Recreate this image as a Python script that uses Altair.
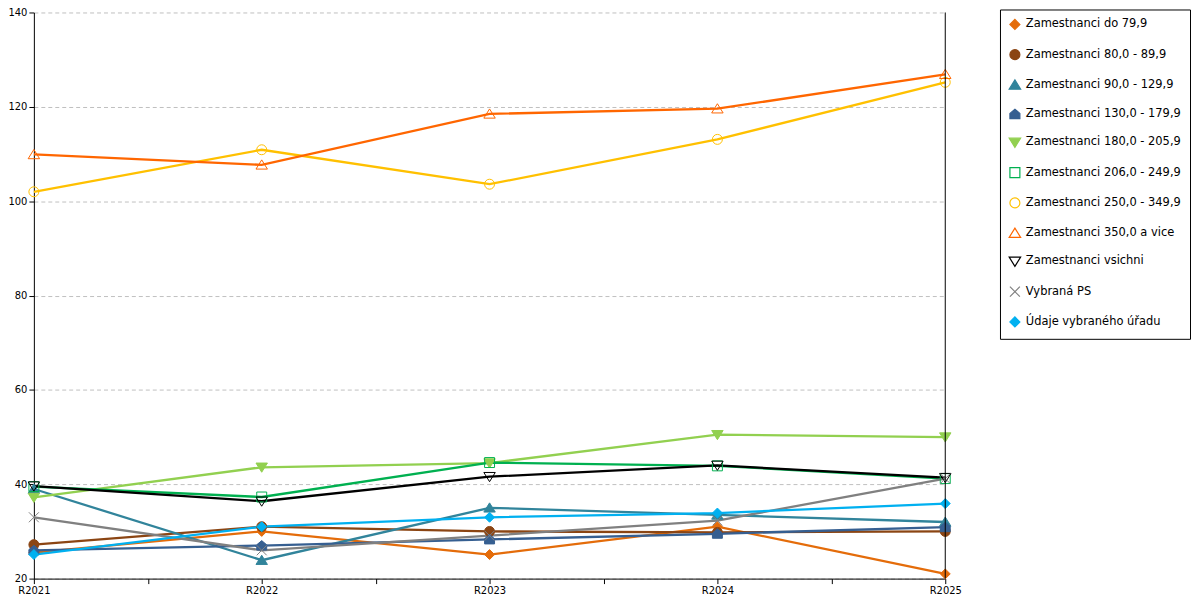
import altair as alt
import pandas as pd

years = [2021, 2022, 2023, 2024, 2025]
series = [
    "Zamestnanci do 79,9",
    "Zamestnanci 80,0 - 89,9",
    "Zamestnanci 90,0 - 129,9",
    "Zamestnanci 130,0 - 179,9",
    "Zamestnanci 180,0 - 205,9",
    "Zamestnanci 206,0 - 249,9",
    "Zamestnanci 250,0 - 349,9",
    "Zamestnanci 350,0 a vice",
    "Zamestnanci vsichni",
    "Vybraná PS",
    "Údaje vybraného úřadu",
]

z_do_79 = [25.5, 30.0, 25.1, 31.0, 21.0]
z_80_89 = [27.2, 31.0, 30.0, 29.8, 30.0]
z_90_129 = [39.0, 23.9, 35.0, 33.5, 32.0]
z_130_179 = [26.0, 27.0, 28.3, 29.5, 30.9]
z_180_205 = [37.2, 43.6, 44.5, 50.5, 50.0]
z_206_249 = [39.5, 37.3, 44.6, 43.9, 41.2]
z_250_349 = [102.0, 110.9, 103.6, 113.1, 125.2]
z_350 = [109.9, 107.7, 118.5, 119.6, 126.9]
z_vsichni = [39.6, 36.4, 41.6, 44.0, 41.4]
vybrana_ps = [33.0, 26.0, 29.1, 32.3, 41.2]
udaje_uradu = [25.1, 31.0, 33.0, 33.9, 35.9]

values = [z_do_79, z_80_89, z_90_129, z_130_179, z_180_205, z_206_249,
          z_250_349, z_350, z_vsichni, vybrana_ps, udaje_uradu]

colors = ["#E46C0A", "#8B4513", "#31849B", "#365F91", "#92D050", "#00B050",
          "#FFC000", "#FF6600", "#000000", "#808080", "#00B0F0"]

HOUSE = "M0,-1L1,-0.15L1,0.9L-1,0.9L-1,-0.15Z"
XMARK = "M-1,-1L1,1M-1,1L1,-1"
TRI_UP = "M0,-1L1.15,0.85L-1.15,0.85Z"
TRI_DOWN = "M0,1L1.15,-0.85L-1.15,-0.85Z"
shapes = ["diamond", "circle", TRI_UP, HOUSE, TRI_DOWN, "square",
          "circle", TRI_UP, TRI_DOWN, XMARK, "diamond"]
filled = [True, True, True, True, True, False, False, False, False, False, True]
fills = [c if f else "transparent" for c, f in zip(colors, filled)]

rows = []
for s, vals in zip(series, values):
    for y, v in zip(years, vals):
        rows.append({"series": s, "year": y, "value": v})
df = pd.DataFrame(rows)

xticks = [2021, 2021.5, 2022, 2022.5, 2023, 2023.5, 2024, 2024.5, 2025]
y_min, y_max = 20, 140

x_enc = alt.X(
    "year:Q",
    scale=alt.Scale(domain=[years[0], years[-1]], nice=False, zero=False),
    axis=alt.Axis(
        title=None, values=xticks, grid=False,
        labelExpr="datum.value % 1 == 0 ? 'R' + datum.value : ''",
        labelFlush=False, labelOverlap=False, tickSize=5, labelPadding=2,
        domainColor="black", tickColor="black",
    ),
)
y_scale = alt.Scale(domain=[y_min, y_max], nice=False, zero=False)
y_enc = alt.Y(
    "value:Q", scale=y_scale,
    axis=alt.Axis(
        title=None, values=[20, 40, 60, 80, 100, 120, 140], grid=True,
        gridDash=[4, 3], gridColor="#c0c0c0", gridWidth=1,
        tickSize=5, labelPadding=2, domainColor="black", tickColor="black",
    ),
)

legend = alt.Legend(
    orient="none", legendX=971, legendY=-3, title=None,
    strokeColor="black", fillColor="white", padding=9, rowPadding=14.4,
    labelFont="DejaVu Sans", labelFontSize=11.5, labelColor="black",
    labelLimit=300, labelOffset=5, symbolSize=100, symbolStrokeWidth=1.2,
)

lines = alt.Chart(df).mark_line(strokeWidth=2.3).encode(
    x=x_enc, y=y_enc,
    detail="series:N",
    color=alt.Color("series:N", scale=alt.Scale(domain=series, range=colors), legend=legend),
)

points = alt.Chart(df).mark_point(filled=False, strokeWidth=1, opacity=1, size=100).encode(
    x=x_enc, y=y_enc,
    color=alt.Color("series:N", scale=alt.Scale(domain=series, range=colors), legend=legend),
    fill=alt.Fill("series:N", scale=alt.Scale(domain=series, range=fills), legend=legend),
    shape=alt.Shape("series:N", scale=alt.Scale(domain=series, range=shapes), legend=legend),
)

edge = pd.DataFrame({"year": [years[-1]], "lo": [y_min], "hi": [y_max]})
right_line = alt.Chart(edge).mark_rule(color="black", strokeWidth=1).encode(
    x=alt.X("year:Q"),
    y=alt.Y("lo:Q"),
    y2="hi:Q",
)

chart = alt.layer(lines, points, right_line).properties(
    width=916, height=569,
    autosize=alt.AutoSizeParams(type="none"),
    padding={"left": 26, "top": 3, "right": 248, "bottom": 20},
    background="white",
).configure_view(stroke=None).configure_axis(
    labelFont="DejaVu Sans", labelFontSize=10, labelColor="black",
)

chart.save("out.html", embed_options={"renderer": "svg", "actions": False})
